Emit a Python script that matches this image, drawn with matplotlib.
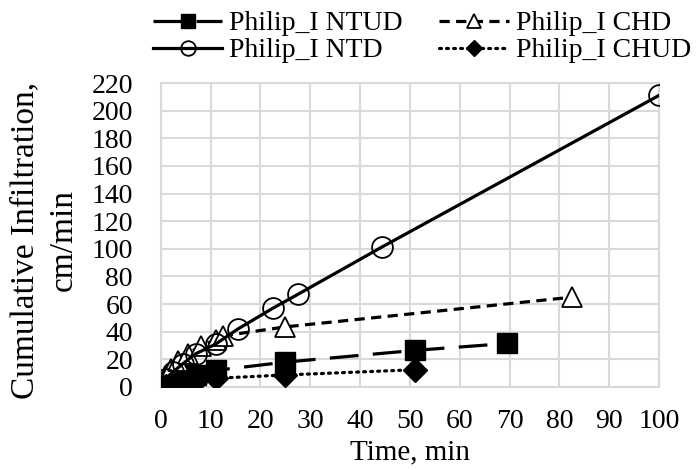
import matplotlib
matplotlib.use("Agg")
import matplotlib.pyplot as plt

plt.rcParams["font.family"] = ["Liberation Serif", "DejaVu Serif"]

# Time (min) and cumulative infiltration
ntud_t = [0, 1, 2, 3, 5, 7, 11, 25, 51, 69.5]
ntud_i = [0, 2, 3.5, 5, 7, 9, 12, 18, 26.5, 31.5]

chd_t = [0, 1, 2, 3.5, 5.5, 8, 11, 12.5, 25, 82.5]
chd_i = [0, 8, 13, 19, 24, 30, 34, 37, 43.5, 65]

ntd_t = [0, 1, 2.5, 4.5, 7, 11, 15.5, 22.5, 27.5, 44.5, 100]
ntd_i = [0, 6, 11, 17, 24, 31, 42, 57, 67, 101.5, 211]

chud_t = [0, 1, 2, 3, 5, 7, 11, 25, 51]
chud_i = [0, 1, 2, 2.5, 3.5, 4.5, 6.3, 8.7, 12.5]

x_ticks = list(range(0, 101, 10))
y_ticks = list(range(0, 221, 20))

fig = plt.figure(figsize=(7, 4.7), dpi=100)
ax = fig.add_axes([0.2296, 0.1766, 0.7118, 0.6468])

lw = 2.3
h_ntud, = ax.plot(ntud_t, ntud_i, color="black", lw=lw, dashes=(9, 4.5),
                  marker="s", ms=15, mfc="black", mec="black",
                  label="Philip_I NTUD", zorder=3)
h_chd, = ax.plot(chd_t, chd_i, color="black", lw=lw, dashes=(3.2, 2),
                 marker="^", ms=15, mfc="white", mec="black", mew=1.3,
                 label="Philip_I CHD", zorder=3)
h_ntd, = ax.plot(ntd_t, ntd_i, color="black", lw=lw, linestyle="-",
                 marker="o", ms=15, mfc="none", mec="black", mew=1.3,
                 label="Philip_I NTD", zorder=3)
h_chud, = ax.plot(chud_t, chud_i, color="black", lw=lw, dashes=(0.6, 1.6),
                  dash_capstyle="round", marker="D", ms=12, mfc="black",
                  mec="black", label="Philip_I CHUD", zorder=3)

ax.set_xlim(0, 100)
ax.set_ylim(0, 220)
ax.set_xticks(x_ticks)
ax.set_yticks(y_ticks)
ax.tick_params(length=0, labelsize=20)
ax.tick_params(axis="x", pad=16)
ax.tick_params(axis="y", pad=20)
ax.grid(True, color="#d9d9d9", lw=1.5)
ax.set_axisbelow(True)
for spine in ax.spines.values():
    spine.set_color("#d9d9d9")
    spine.set_linewidth(1.5)

fig.text(0.5 * (160.7 + 659) / 700, 1 - 459 / 470, "Time, min",
         fontsize=21, ha="center", va="baseline")
fig.text(44 / 700, 1 - 240 / 470, "Cumulative Infiltration,\ncm/min",
         fontsize=24, rotation=90, ha="center", va="center",
         multialignment="center", linespacing=1.35)

handles = [h_ntud, h_ntd, h_chd, h_chud]
fig.legend(handles, [h.get_label() for h in handles],
           loc="upper left", bbox_to_anchor=(153 / 700, 1 - 11 / 470), ncol=2,
           frameon=False, fontsize=20, borderpad=0, borderaxespad=0,
           handlelength=2.5, handletextpad=0.25, columnspacing=1.3,
           labelspacing=0.05, markerscale=0.7)

fig.savefig("out.png", dpi=100)
